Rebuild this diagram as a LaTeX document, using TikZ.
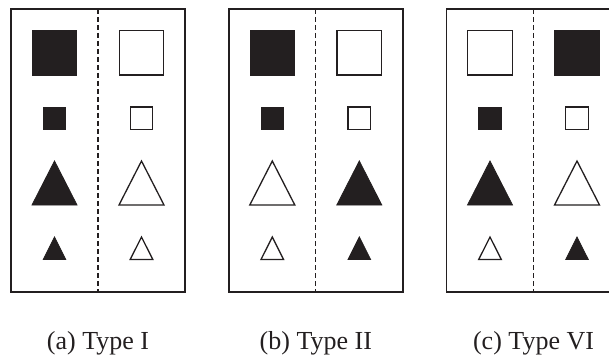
\documentclass[tikz,border=0pt]{standalone}
\usepackage{fontspec}
\setmainfont{Liberation Serif}
\definecolor{ink}{HTML}{231F20}
\begin{document}
\begin{tikzpicture}[x=1pt,y=-1pt,
  frame/.style={draw=ink, line width=1.4pt},
  divider/.style={draw=ink, line width=1.1pt, dash pattern=on 5pt off 3pt},
  on/.style={fill=ink, draw=ink, line width=0.8pt},
  off/.style={fill=white, draw=ink, line width=1.3pt},
  caption/.style={font=\fontsize{26}{31}\selectfont, text=ink, anchor=base, inner sep=0pt}]
\useasboundingbox (0,0) rectangle (609,358);
\foreach \L/\a/\b/\c/\d/\e/\f/\g/\h/\lab/\nm in {11/on/on/on/on/off/off/off/off/(a) Type I/a, 228.8/on/on/off/off/off/off/on/on/(b) Type II/b, 446.5/off/on/on/off/on/off/off/on/(c) Type VI/c} {
  \draw[frame] (\L,9) rectangle ++(174,283);
  \draw[divider] (\L+87,9) -- (\L+87,292);
  \begin{scope}[shift={(\L+43.5,0)}]
    \path[\a] (-22.25,30.5) rectangle (22.25,75);
    \path[\b] (-11.25,107) rectangle (11.25,129.5);
    \path[\c] (0,161) -- (22.5,205) -- (-22.5,205) -- cycle;
    \path[\d] (0,237) -- (11.3,259.5) -- (-11.3,259.5) -- cycle;
  \end{scope}
  \begin{scope}[shift={(\L+130.5,0)}]
    \path[\e] (-22.25,30.5) rectangle (22.25,75);
    \path[\f] (-11.25,107) rectangle (11.25,129.5);
    \path[\g] (0,161) -- (22.5,205) -- (-22.5,205) -- cycle;
    \path[\h] (0,237) -- (11.3,259.5) -- (-11.3,259.5) -- cycle;
  \end{scope}
  \node[caption] (cap\nm) at (\L+87,349.5) {\lab};
}
\end{tikzpicture}
\end{document}
